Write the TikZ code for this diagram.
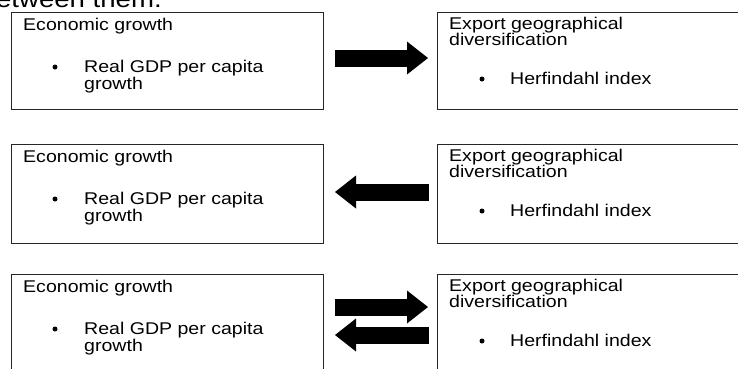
\documentclass[tikz,border=0pt]{standalone}
\usepackage{fontspec}
\setmainfont[FakeStretch=1.15]{Liberation Sans}
\usetikzlibrary{arrows.meta,calc}
\begin{document}
\begin{tikzpicture}[x=1pt,y=-1pt,
  box/.style={draw=black!85, line width=0.9pt, rectangle, inner sep=0pt, anchor=north west},
  txt/.style={anchor=base west, inner sep=0pt, font=\fontsize{17}{17}\selectfont, text=black},
  dot/.style={circle, fill=black, inner sep=0pt, minimum size=5pt},
  blockarrow/.style={line width=17pt, black, -{Triangle[length=21pt,width=33pt,line width=0pt]}}]
\useasboundingbox (0,0) rectangle (738,368);
\clip (0,0) rectangle (738,368);
\node[anchor=base east, inner sep=0pt, font=\fontsize{24}{24}\selectfont, text=black] (head) at (162,7) {between them.};
% boxes
\foreach \i/\t/\h in {1/12/97, 2/144/99, 3/274/120} {
  \node[box, minimum width=312pt, minimum height=\h pt] (L\i) at (11,\t) {};
  \node[box, minimum width=320pt, minimum height=\h pt] (R\i) at (437,\t) {};
  \node[txt] (L\i a) at ($(L\i.north west)+(12,18)$) {Economic growth};
  \node[dot] (L\i b) at ($(L\i.north west)+(44,55)$) {};
  \node[txt] (L\i c) at ($(L\i.north west)+(73,60)$) {Real GDP per capita};
  \node[txt] (L\i d) at ($(L\i.north west)+(73,77)$) {growth};
  \node[txt] (R\i a) at ($(R\i.north west)+(12,17)$) {Export geographical};
  \node[txt] (R\i b) at ($(R\i.north west)+(12,33)$) {diversification};
  \node[dot] (R\i c) at ($(R\i.north west)+(45,67)$) {};
  \node[txt] (R\i d) at ($(R\i.north west)+(73,72)$) {Herfindahl index};
}
% arrows
\coordinate (a1s) at (335,58);  \coordinate (a1e) at (428,58);
\coordinate (a2s) at (429,192); \coordinate (a2e) at (335,192);
\coordinate (a3s) at (335,307); \coordinate (a3e) at (428,307);
\coordinate (a4s) at (429,335); \coordinate (a4e) at (335,335);
\draw[blockarrow] (a1s) -- (a1e);
\draw[blockarrow] (a2s) -- (a2e);
\draw[blockarrow] (a3s) -- (a3e);
\draw[blockarrow] (a4s) -- (a4e);
\end{tikzpicture}
\end{document}
